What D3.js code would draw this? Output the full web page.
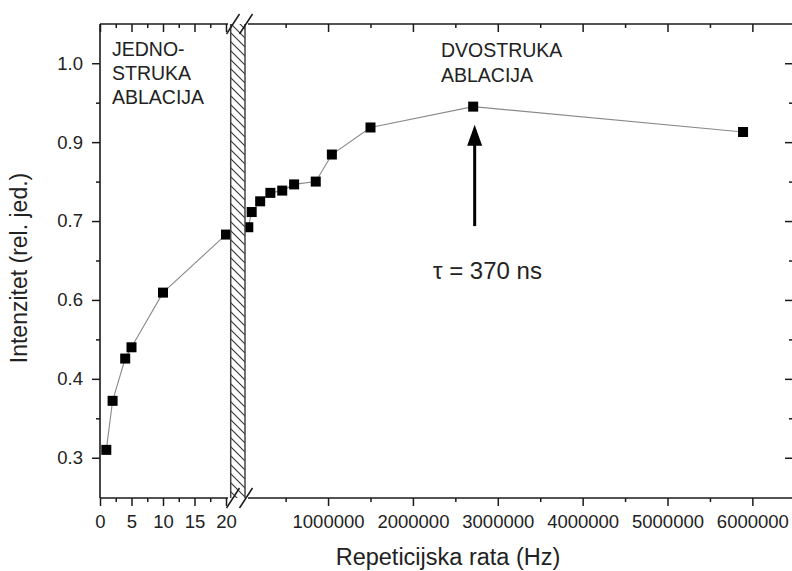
<!DOCTYPE html>
<html><head><meta charset="utf-8">
<script src="https://cdn.jsdelivr.net/npm/d3@7"></script>
<style>
html,body{margin:0;padding:0;background:#fff;}
svg{display:block;font-family:"Liberation Sans",Arial,sans-serif;}
</style></head>
<body><svg id="c" width="792" height="571"></svg>
<script>
// ---- data ----
const leftRate = [1, 2, 4, 5, 10, 20];
const leftIntensity = [0.314, 0.401, 0.476, 0.496, 0.593, 0.696];
const rightRate = [60000, 100000, 200000, 320000, 460000, 600000, 855000, 1045000, 1500000, 2710000, 5890000];
const rightIntensity = [0.709, 0.736, 0.755, 0.770, 0.774, 0.785, 0.790, 0.838, 0.886, 0.923, 0.878];
const yTicks = [0.3, 0.44, 0.58, 0.72, 0.86, 1.0];
const yMinor = [0.37, 0.51, 0.65, 0.79, 0.93];
const leftTicks = [0, 5, 10, 15, 20];
const leftMinor = [2.5, 7.5, 12.5, 17.5];
const rightTicks = [1000000, 2000000, 3000000, 4000000, 5000000, 6000000];
const rightMinor = [500000, 1500000, 2500000, 3500000, 4500000, 5500000];
const xTitle = "Repeticijska rata (Hz)";
const yTitle = "Intenzitet (rel. jed.)";
const leftLabel = ["JEDNO-", "STRUKA", "ABLACIJA"];
const rightLabel = ["DVOSTRUKA", "ABLACIJA"];
const tauLabel = "τ = 370 ns";
const arrowRate = 2710000, arrowFrom = 0.711, arrowTo = 0.891;

// ---- layout ----
const L = 100, T = 24, B = 498, R = 793;
const hatchL = 230.7, hatchR = 245;
const svg = d3.select("#c");

const y = d3.scaleLinear().domain([0.2286, 1.0696]).range([B, T]);
const xL = d3.scaleLinear().domain([0, 20.7]).range([L, 230.4]);
const xR = d3.scaleLinear().domain([0, 6500000]).range([243.2, 794.8]);

const axisCol = "#1a1a1a";
function styleAxis(g, fs) {
  g.select(".domain").remove();
  g.selectAll("line").attr("stroke", axisCol).attr("stroke-width", 1.5);
  g.selectAll("text").attr("fill", "#222").style("font-size", fs + "px").style("font-family", "'Liberation Sans',Arial,sans-serif");
}

// frame lines
const frame = svg.append("g").attr("stroke", axisCol).attr("stroke-width", 1.6).attr("fill", "none");
frame.append("line").attr("x1", L).attr("x2", L).attr("y1", T).attr("y2", B);
frame.append("line").attr("x1", L).attr("x2", 228).attr("y1", B).attr("y2", B);
frame.append("line").attr("x1", 248).attr("x2", R).attr("y1", B).attr("y2", B);
frame.append("line").attr("x1", L).attr("x2", 228).attr("y1", T).attr("y2", T);
frame.append("line").attr("x1", 248).attr("x2", R).attr("y1", T).attr("y2", T);

// left y axis
svg.append("g").attr("transform", `translate(${L},0)`)
  .call(d3.axisLeft(y).tickValues(yTicks).tickFormat(d3.format(".1f")).tickSize(8).tickPadding(9))
  .call(g => styleAxis(g, 18.5));
svg.append("g").attr("transform", `translate(${L},0)`)
  .call(d3.axisLeft(y).tickValues(yMinor).tickFormat("").tickSize(4))
  .call(g => styleAxis(g, 18));
// right y ticks (inward)
svg.append("g").attr("transform", `translate(${R},0)`)
  .call(d3.axisLeft(y).tickValues(yTicks).tickFormat("").tickSize(8))
  .call(g => styleAxis(g, 18));
svg.append("g").attr("transform", `translate(${R},0)`)
  .call(d3.axisLeft(y).tickValues(yMinor).tickFormat("").tickSize(4))
  .call(g => styleAxis(g, 18));

// bottom axes
svg.append("g").attr("transform", `translate(0,${B})`)
  .call(d3.axisBottom(xL).tickValues(leftTicks).tickFormat(d3.format("d")).tickSize(8).tickPadding(9))
  .call(g => styleAxis(g, 18.5));
svg.append("g").attr("transform", `translate(0,${B})`)
  .call(d3.axisBottom(xL).tickValues(leftMinor).tickFormat("").tickSize(4))
  .call(g => styleAxis(g, 18));
svg.append("g").attr("transform", `translate(0,${B})`)
  .call(d3.axisBottom(xR).tickValues(rightTicks).tickFormat(d3.format("d")).tickSize(8).tickPadding(9))
  .call(g => styleAxis(g, 18.5));
svg.append("g").attr("transform", `translate(0,${B})`)
  .call(d3.axisBottom(xR).tickValues(rightMinor).tickFormat("").tickSize(4))
  .call(g => styleAxis(g, 18));
// top axes (inward)
[[xL, leftTicks, leftMinor], [xR, rightTicks, rightMinor]].forEach(([sc, maj, mn]) => {
  svg.append("g").attr("transform", `translate(0,${T})`)
    .call(d3.axisBottom(sc).tickValues(maj).tickFormat("").tickSize(8)).call(g => styleAxis(g, 18));
  svg.append("g").attr("transform", `translate(0,${T})`)
    .call(d3.axisBottom(sc).tickValues(mn).tickFormat("").tickSize(4)).call(g => styleAxis(g, 18));
});

// lines
const lineCol = "#8a8a8a";
svg.append("path").datum(leftRate.map((r, i) => [r, leftIntensity[i]]))
  .attr("fill", "none").attr("stroke", lineCol).attr("stroke-width", 1.1)
  .attr("d", d3.line().x(d => xL(d[0])).y(d => y(d[1])));
svg.append("path").datum(rightRate.map((r, i) => [r, rightIntensity[i]]))
  .attr("fill", "none").attr("stroke", lineCol).attr("stroke-width", 1.1)
  .attr("d", d3.line().x(d => xR(d[0])).y(d => y(d[1])));

// markers
const S = 10;
svg.append("g").selectAll("rect").data(leftRate.map((r, i) => [r, leftIntensity[i]])).join("rect")
  .attr("x", d => xL(d[0]) - S / 2).attr("y", d => y(d[1]) - S / 2).attr("width", S).attr("height", S).attr("fill", "#000");
svg.append("g").selectAll("rect").data(rightRate.map((r, i) => [r, rightIntensity[i]])).join("rect")
  .attr("x", d => xR(d[0]) - S / 2).attr("y", d => y(d[1]) - S / 2).attr("width", S).attr("height", S).attr("fill", "#000");

// hatch band
const defs = svg.append("defs");
const pat = defs.append("pattern").attr("id", "hatch").attr("patternUnits", "userSpaceOnUse")
  .attr("width", 9).attr("height", 9);
pat.append("rect").attr("width", 9).attr("height", 9).attr("fill", "#fff");
pat.append("path").attr("d", "M-2,-2 L11,11 M-2,7 L2,11 M7,-2 L11,2").attr("stroke", "#333").attr("stroke-width", 1.1);
svg.append("rect").attr("x", hatchL).attr("y", T).attr("width", hatchR - hatchL).attr("height", B - T)
  .attr("fill", "url(#hatch)").attr("stroke", "none");
svg.append("line").attr("x1", hatchL).attr("x2", hatchL).attr("y1", T).attr("y2", B).attr("stroke", "#444").attr("stroke-width", 1.5);
svg.append("line").attr("x1", hatchR).attr("x2", hatchR).attr("y1", T).attr("y2", B).attr("stroke", "#444").attr("stroke-width", 1.5);

// break marks
[T, B].forEach(yy => {
  [233, 246].forEach(xx => {
    svg.append("line").attr("x1", xx - 6.5).attr("y1", yy + 10).attr("x2", xx + 6.5).attr("y2", yy - 10)
      .attr("stroke", axisCol).attr("stroke-width", 1.5);
  });
});

// annotations
const ann = svg.append("g").style("font-size", "19.5px").attr("fill", "#222");
leftLabel.forEach((t, i) => ann.append("text").attr("x", 112).attr("y", 56 + i * 24).text(t));
rightLabel.forEach((t, i) => ann.append("text").attr("x", 441).attr("y", 57 + i * 24.5).text(t));
svg.append("text").attr("x", 433).attr("y", 279).style("font-size", "24px").attr("fill", "#222").text(tauLabel);

// arrow
const ax = xR(arrowRate) + 1.5;
svg.append("line").attr("x1", ax).attr("x2", ax).attr("y1", y(arrowFrom)).attr("y2", y(arrowTo) + 15)
  .attr("stroke", "#000").attr("stroke-width", 3);
svg.append("path").attr("d", `M${ax},${y(arrowTo)} L${ax - 7.5},${y(arrowTo) + 21} L${ax + 7.5},${y(arrowTo) + 21} Z`).attr("fill", "#000");

// titles
svg.append("text").attr("x", 448).attr("y", 565).attr("text-anchor", "middle").style("font-size", "23.5px").attr("fill", "#222").text(xTitle);
svg.append("text").attr("transform", "translate(27,268) rotate(-90)").attr("text-anchor", "middle").style("font-size", "23px").attr("fill", "#222").text(yTitle);
</script></body></html>
